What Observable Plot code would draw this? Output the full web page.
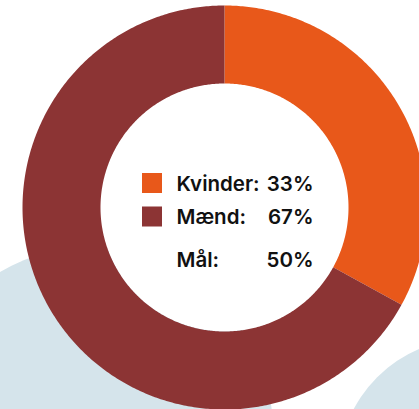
<!DOCTYPE html>
<html>
<head>
<meta charset="utf-8">
<script src="https://cdn.jsdelivr.net/npm/d3@7"></script>
<script src="https://cdn.jsdelivr.net/npm/@observablehq/plot@0.6"></script>
<style>
  html, body { margin: 0; padding: 0; background: #fff; overflow: hidden; }
  svg { display: block; }
</style>
</head>
<body>
<div id="chart"></div>
<script>
// Data
const categories = ["Kvinder", "Mænd"];
const values = [33, 67];
const colors = ["#E8581A", "#8C3434"];
const targetLabel = "Mål";
const targetValue = 50;

// Layout (pixels)
const W = 419, H = 409;
const cx = 224, cy = 207, rOuter = 202, rInner = 124;

// Build slice polygons from the values
const total = d3.sum(values);
const slices = [];
let acc = 0;
categories.forEach((c, i) => {
  const a0 = acc / total * 2 * Math.PI;
  acc += values[i];
  const a1 = acc / total * 2 * Math.PI;
  const n = Math.max(8, Math.ceil((a1 - a0) / 0.01));
  const pts = [];
  for (let k = 0; k <= n; k++) {
    const a = a0 + (a1 - a0) * k / n;
    pts.push({cat: c, x: cx + rOuter * Math.sin(a), y: cy - rOuter * Math.cos(a)});
  }
  for (let k = n; k >= 0; k--) {
    const a = a0 + (a1 - a0) * k / n;
    pts.push({cat: c, x: cx + rInner * Math.sin(a), y: cy - rInner * Math.cos(a)});
  }
  slices.push(...pts);
});

// Background circles (decoration)
const bgCircles = [{x: 92, y: 426, r: 180}, {x: 470, y: 470, r: 132}];
const hole = [{x: cx, y: cy, r: rInner}];

// Legend rows
const rows = [
  ...categories.map((c, i) => ({label: c + ":", value: values[i] + "%", color: colors[i], y: 190 + i * 33.5})),
  {label: targetLabel + ":", value: targetValue + "%", color: null, y: 266}
];

const font = "Inter, 'Noto Sans', sans-serif";

const plot = Plot.plot({
  width: W, height: H,
  margin: 0,
  x: {domain: [0, W], range: [0, W], axis: null},
  y: {domain: [0, H], range: [0, H], axis: null},
  r: {type: "identity"},
  color: {domain: categories, range: colors},
  style: {fontFamily: font, background: "#fff"},
  marks: [
    Plot.dot(bgCircles, {x: "x", y: "y", r: "r", fill: "#D5E4EB", stroke: null}),
    Plot.dot(hole, {x: "x", y: "y", r: "r", fill: "#fff", stroke: null}),
    Plot.line(slices, {x: "x", y: "y", z: "cat", fill: "cat", stroke: null, curve: "linear"}),
    Plot.rect(rows.filter(d => d.color), {x1: 142, x2: 162, y1: d => d.y - 17, y2: d => d.y + 3, fill: "color"}),
    Plot.text(rows, {x: 176, y: "y", text: "label", textAnchor: "start", lineAnchor: "bottom", fontSize: 20.5, fontWeight: 600, fill: "#111"}),
    Plot.text(rows, {x: 313, y: "y", text: "value", textAnchor: "end", lineAnchor: "bottom", fontSize: 20.5, fontWeight: 600, fill: "#111"})
  ]
});
plot.querySelectorAll("text").forEach(t => t.setAttribute("dy", "0.0em"));
document.getElementById("chart").appendChild(plot);
</script>
</body>
</html>
